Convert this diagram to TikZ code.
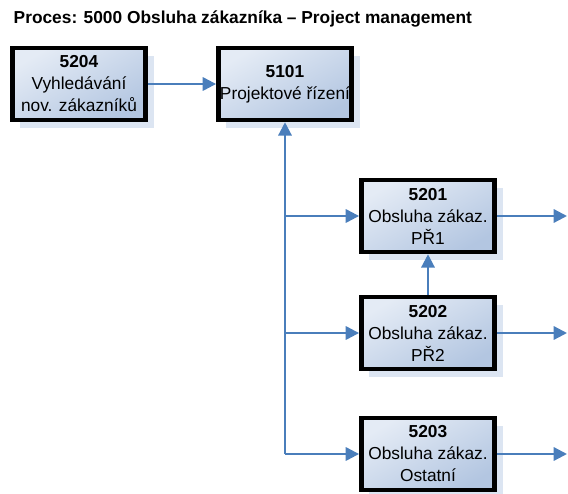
\documentclass[tikz,border=0pt]{standalone}
\usepackage{fontspec}
\setmainfont{Liberation Sans}
\usetikzlibrary{arrows.meta,shadows}
\definecolor{linkblue}{HTML}{4A7EBB}
\definecolor{boxlight}{HTML}{E4EBF5}
\definecolor{boxdark}{HTML}{B3C6E1}
\definecolor{shadowblue}{HTML}{DCE5F2}
\begin{document}
\begin{tikzpicture}[x=0.75pt,y=-0.75pt,
	procbox/.style={draw=black,line width=3.4pt,minimum width=100pt,minimum height=54pt,
		left color=boxlight,right color=boxdark,shading angle=30,
		drop shadow={shadow xshift=6pt,shadow yshift=-6pt,fill=shadowblue,opacity=1},
		align=center,font=\fontsize{13}{16.5}\selectfont,inner sep=0pt},
	link/.style={draw=linkblue,line width=1.7pt,-{Triangle[length=10pt,width=10pt]}}]
	\useasboundingbox (0,0) rectangle (568,493);
	\node [anchor=base west,font=\fontsize{13}{15}\selectfont\bfseries] (title) at (9,23) {Proces: 5000 Obsluha zákazníka – Project management};
	% boxes
	\node [procbox] (n5204) at (79,84) {\textbf{5204}\\Vyhledávání\\nov. zákazníků};
	\node [procbox] (n5101) at (285,84) {\textbf{5101}\\Projektové řízení};
	\node [procbox] (n5201) at (428,216) {\textbf{5201}\\Obsluha zákaz.\\PŘ1};
	\node [procbox] (n5202) at (428,333) {\textbf{5202}\\Obsluha zákaz.\\PŘ2};
	\node [procbox] (n5203) at (428,454) {\textbf{5203}\\Obsluha zákaz.\\Ostatní};
	% connectors
	\coordinate (trunk) at (285,454);
	\coordinate (out1) at (567,216);
	\coordinate (out2) at (567,333);
	\coordinate (out3) at (567,454);
	\draw [link] (n5204) -- (n5101);
	\draw [link] (trunk) -- (n5101);
	\draw [link] (trunk |- n5201) -- (n5201);
	\draw [link] (trunk |- n5202) -- (n5202);
	\draw [link] (trunk) -- (n5203);
	\draw [link] (n5202) -- (n5201);
	\draw [link] (n5201) -- (out1);
	\draw [link] (n5202) -- (out2);
	\draw [link] (n5203) -- (out3);
\end{tikzpicture}
\end{document}
